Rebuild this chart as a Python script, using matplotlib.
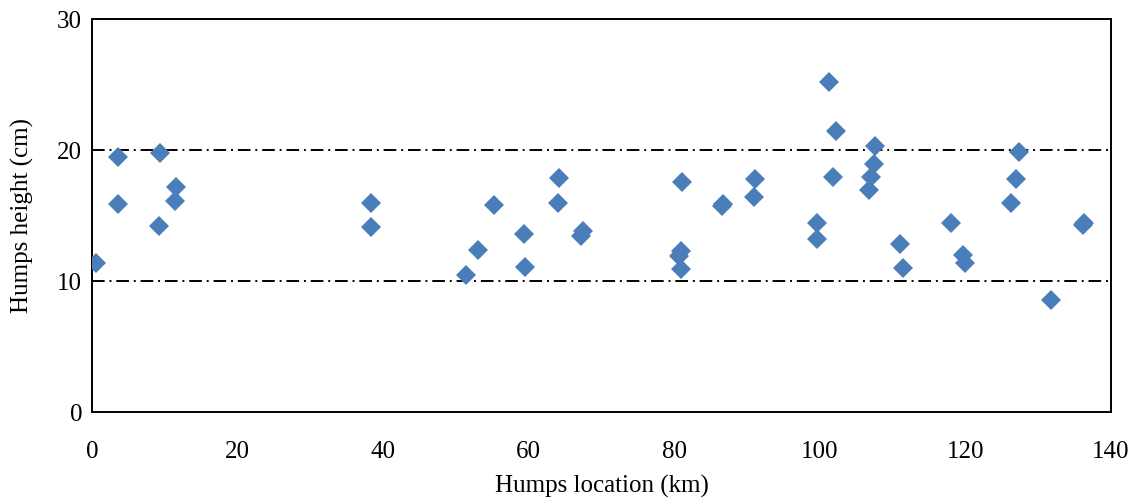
import numpy as np
import matplotlib
matplotlib.use('Agg')
import matplotlib.pyplot as plt

# hump positions and heights
location_km = [0.5, 3.6, 3.6, 9.3, 9.2, 11.5, 11.4, 38.3, 38.3,
               51.4, 53.1, 55.3, 59.3, 59.5, 64.1, 64.0, 67.4, 67.2,
               81.0, 80.9, 80.7, 80.9, 86.5, 86.7, 91.1, 90.9,
               99.6, 99.6, 101.3, 102.2, 101.8, 107.6, 107.4, 107.0, 106.7,
               111.0, 111.4, 118.0, 119.7, 119.9, 126.3, 127.0, 127.3,
               131.8, 136.2, 136.3]
height_cm = [11.4, 19.5, 15.9, 19.75, 14.2, 17.2, 16.1, 15.95, 14.1,
             10.5, 12.4, 15.8, 13.6, 11.1, 17.9, 15.95, 13.8, 13.45,
             17.55, 12.3, 11.9, 10.9, 15.7, 15.9, 17.8, 16.45,
             14.45, 13.25, 25.2, 21.45, 17.95, 20.3, 18.95, 17.95, 16.95,
             12.85, 11.0, 14.45, 12.0, 11.4, 15.95, 17.8, 19.85,
             8.6, 14.3, 14.45]
limit_lines = [10, 20]
x_ticks = [0, 20, 40, 60, 80, 100, 120, 140]
y_ticks = [0, 10, 20, 30]

plt.rcParams['font.family'] = ['Liberation Serif', 'DejaVu Serif']

fig = plt.figure(figsize=(11.38, 5.0), dpi=100)
ax = fig.add_axes([0.0808, 0.1754, 0.8955, 0.7866])

# dash-dot limit lines at 10 and 20 cm
for yv in limit_lines:
    ax.axhline(yv, color='black', lw=1.4, dashes=(6.5, 2.5, 1, 2.5), zorder=1)

ax.plot(location_km, height_cm, linestyle='none', marker='D', markersize=10,
        color='#4a7ebb', markeredgewidth=0, zorder=3)

ax.set_xlim(0, 140)
ax.set_ylim(0, 30)
ax.set_xticks(x_ticks)
ax.set_yticks(y_ticks)
ax.tick_params(axis='both', length=0, labelsize=18)
ax.tick_params(axis='x', pad=21)
ax.tick_params(axis='y', pad=7)
for s in ax.spines.values():
    s.set_linewidth(1.4)

ax.set_xlabel('Humps location (km)', fontsize=18, labelpad=8)
ax.set_ylabel('Humps height (cm)', fontsize=18, labelpad=17)

fig.savefig('out.png', dpi=100)
